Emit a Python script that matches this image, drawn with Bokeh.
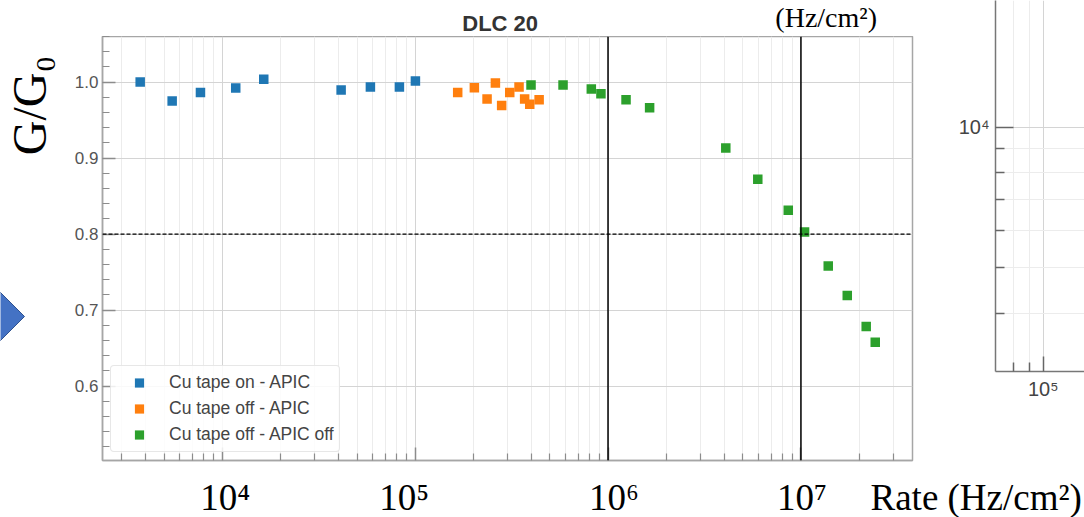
from math import pi, log10
from bokeh.plotting import figure
from bokeh.layouts import row, column
from bokeh.models import (Range1d, Span, FixedTicker, SingleIntervalTicker,
                          NumeralTickFormatter, CustomJSTickFormatter, LogScale)
from bokeh.core.properties import value
from bokeh.embed import file_html
from bokeh.resources import INLINE

# ---------------- data ----------------
blue_rate = [3760, 5507, 7720, 11760, 16430, 41370, 58670, 82930, 100400]
blue_gain = [1.000, 0.975, 0.9864, 0.9921, 1.0039, 0.9895, 0.9934, 0.9934, 1.0013]

orange_rate = [166300, 202900, 236100, 260800, 281000, 309500, 345800, 369700, 392900, 439500]
orange_gain = [0.9864, 0.9926, 0.9776, 0.9987, 0.9691, 0.9864, 0.9934, 0.9776, 0.9707, 0.9767]

green_rate = [399000, 584700, 819300, 919000, 1.240e6, 1.643e6, 4.078e6, 5.974e6,
              8.596e6, 1.044e7, 1.385e7, 1.738e7, 2.179e7, 2.427e7]
green_gain = [0.9961, 0.9961, 0.9908, 0.9847, 0.9768, 0.9663, 0.9134, 0.8720,
              0.8312, 0.8026, 0.7579, 0.7193, 0.6782, 0.6575]

series_names = ["Cu tape on - APIC", "Cu tape off - APIC", "Cu tape off - APIC off"]
series_colors = ["#1f77b4", "#ff7f0e", "#2ca02c"]

x_tick_values = [1e4, 1e5, 1e6, 1e7]
x_tick_labels = ["10\u2074", "10\u2075", "10\u2076", "10\u2077"]
threshold_gain = 0.8
marker_rates = [1e6, 1e7]

title_text = "DLC 20"
y_label_text = "G/G\u2080"
x_label_text = "Rate (Hz/cm\u00b2)"
top_unit_text = "(Hz/cm\u00b2)"

# neighbouring (cropped) chart on the right of the slide
side_x_major = [1e5]
side_x_minor = [7e4, 8e4, 9e4]
side_y_major = [1e4]
side_y_minor = [4000, 5000, 6000, 7000, 8000, 9000]

# ---------------- style / layout ----------------
SANS = "Liberation Sans"
SERIF = "Liberation Serif"
FRAME = "#a6a6a6"
TICK = "#8c8c8c"
x_label_nudge_px = [3, -11, 6, 1]      # the slide's hand-placed tick texts
MID = 0.3375                           # baseline -> middle of the text box, in em

X_MIN, X_MAX = 2398, 3.786e7
Y_MIN, Y_MAX = 0.502, 1.060
LEFT_W = 70            # slide strip left of the chart
MAIN_W = 882           # main chart canvas width
SIDE_W = 1084 - LEFT_W - MAIN_W
TOP_H = 36
MAIN_H = 434
BOT_H = 517 - TOP_H - MAIN_H
FRAME_L, FRAME_R = 32, 40   # main chart borders


def blank(width, height, xr, yr):
    f = figure(width=width, height=height, x_range=xr, y_range=yr,
               output_backend="svg", toolbar_location=None,
               x_axis_location=None, y_axis_location=None, min_border=0,
               background_fill_color="white", border_fill_color="white")
    f.outline_line_color = None
    f.grid.visible = False
    return f


# ---------------- main chart ----------------
p = figure(width=MAIN_W, height=MAIN_H, x_axis_type="log",
           x_range=Range1d(X_MIN, X_MAX), y_range=Range1d(Y_MIN, Y_MAX),
           output_backend="svg", toolbar_location=None,
           min_border_left=FRAME_L, min_border_right=FRAME_R,
           min_border_top=0, min_border_bottom=10,
           background_fill_color="white", border_fill_color="white")
p.outline_line_color = FRAME
p.outline_line_width = 1.5

minor_x = [m * 10 ** e for e in range(3, 8) for m in range(2, 10)]
p.xaxis.ticker = FixedTicker(ticks=x_tick_values, minor_ticks=minor_x)
p.xaxis.formatter = CustomJSTickFormatter(code="return ''")
p.xaxis.major_label_standoff = 0
p.xaxis.major_label_text_font_size = "1px"
p.yaxis.ticker = SingleIntervalTicker(interval=0.1, num_minor_ticks=5)
p.yaxis.formatter = NumeralTickFormatter(format="0.0")

for ax in (p.xaxis[0], p.yaxis[0]):
    ax.axis_line_color = FRAME
    ax.axis_line_width = 1.5
    ax.major_tick_in = 13
    ax.major_tick_out = 0
    ax.minor_tick_in = 7
    ax.minor_tick_out = 0
    ax.major_tick_line_color = TICK
    ax.minor_tick_line_color = TICK
    ax.major_tick_line_width = 1.5
    ax.minor_tick_line_width = 1.2

p.yaxis.major_label_text_font = SANS
p.yaxis.major_label_text_font_size = "17px"
p.yaxis.major_label_text_color = "#555555"
p.yaxis.major_label_standoff = 4

p.xgrid.grid_line_color = "#d4d4d4"
p.xgrid.minor_grid_line_color = "#ececec"
p.ygrid.grid_line_color = "#d4d4d4"
p.ygrid.minor_grid_line_color = None

p.add_layout(Span(location=threshold_gain, dimension="width", line_color="black",
                  line_width=1.2, line_dash="4 2"))
for r in marker_rates:
    p.add_layout(Span(location=r, dimension="height", line_color="black", line_width=1.5))

for rates, gains, name, col in zip((blue_rate, orange_rate, green_rate),
                                   (blue_gain, orange_gain, green_gain),
                                   series_names, series_colors):
    p.scatter(rates, gains, marker="square", size=9.5, fill_color=col,
              line_color=None, legend_label=name)

leg = p.legend[0]
leg.location = (8, 8)
leg.margin = 0
leg.padding = 5
leg.spacing = 3
leg.glyph_width = 46
leg.glyph_height = 23
leg.label_height = 23
leg.label_standoff = 7
leg.label_text_font = SANS
leg.label_text_font_size = "17.5px"
leg.label_text_color = "#444444"
leg.border_line_color = "#d0d0d0"
leg.border_line_width = 1
leg.border_radius = 4
leg.background_fill_alpha = 0.85

# ---------------- slide strips ----------------
# left strip: arrow tip and the y title
left = blank(LEFT_W, 517, Range1d(0, LEFT_W), Range1d(517, 0))
left.patch([-12, 24, -12], [280, 316, 352], fill_color="#4472C4",
           line_color="#2F528F", line_width=1)
left.text(x=[45 - MID * 48], y=[105], text=[y_label_text], angle=pi / 2,
          text_align="center", text_baseline="middle",
          text_font=value(SERIF), text_font_size=value("48px"), text_color="black")

# top strip: chart title and the unit text of the slide
top = blank(MAIN_W, TOP_H, Range1d(LEFT_W, LEFT_W + MAIN_W), Range1d(TOP_H, 0))
top.text(x=[503], y=[30 - MID * 22], text=[title_text], text_align="center",
         text_baseline="middle", text_font=value(SANS), text_font_style="bold",
         text_font_size=value("22px"), text_color="#333333")
top.text(x=[858], y=[26 - MID * 28], text=[top_unit_text], text_align="center",
         text_baseline="middle", text_font=value(SERIF),
         text_font_size=value("28px"), text_color="black")

# bottom strip: decade labels (through the chart's log scale) and the x title
bot = blank(1084 - LEFT_W, BOT_H, Range1d(LEFT_W, 1084), Range1d(517, 517 - BOT_H))
k = (log10(X_MAX) - log10(X_MIN)) / (MAIN_W - FRAME_L - FRAME_R)
rate_lo = 10 ** (log10(X_MIN) - FRAME_L * k)
rate_hi = 10 ** (log10(X_MAX) + (1084 - (LEFT_W + MAIN_W - FRAME_R)) * k)
bot.extra_x_ranges = {"rate": Range1d(rate_lo, rate_hi)}
bot.extra_x_scales = {"rate": LogScale()}
base_y = 509 - MID * 37
bot.text(x=x_tick_values, y=[base_y] * len(x_tick_values), text=x_tick_labels,
         x_offset=x_label_nudge_px, x_range_name="rate",
         text_align="center", text_baseline="middle",
         text_font=value(SERIF), text_font_size=value("37px"), text_color="black")
bot.text(x=[870], y=[base_y], text=[x_label_text], text_align="left",
         text_baseline="middle", text_font=value(SERIF),
         text_font_size=value("37px"), text_color="black")

# right: the cropped neighbouring chart
side = figure(width=SIDE_W, height=TOP_H + MAIN_H, x_axis_type="log", y_axis_type="log",
              x_range=Range1d(10 ** (5 - 47.7 / 310), 10 ** (5 + 41.3 / 310)),
              y_range=Range1d(3000, 10 ** (4 + 127 / 467)),
              output_backend="svg", toolbar_location=None,
              min_border_left=43, min_border_right=0, min_border_top=0,
              min_border_bottom=99,
              background_fill_color="white", border_fill_color="white")
side.outline_line_color = None
sup = ("const s={'0':'\u2070','1':'\u00b9','2':'\u00b2','3':'\u00b3','4':'\u2074',"
       "'5':'\u2075','6':'\u2076','7':'\u2077','8':'\u2078','9':'\u2079'};"
       "const e=Math.round(Math.log10(tick));"
       "return '10'+String(e).split('').map(c=>s[c]).join('');")
side.xaxis.ticker = FixedTicker(ticks=side_x_major, minor_ticks=side_x_minor)
side.yaxis.ticker = FixedTicker(ticks=side_y_major, minor_ticks=side_y_minor)
for ax in (side.xaxis[0], side.yaxis[0]):
    ax.formatter = CustomJSTickFormatter(code=sup)
    ax.axis_line_color = "#777777"
    ax.axis_line_width = 1.5
    ax.major_tick_out = 0
    ax.minor_tick_out = 0
    ax.minor_tick_in = 9
    ax.major_tick_line_color = "#666666"
    ax.minor_tick_line_color = "#666666"
    ax.major_tick_line_width = 1.5
    ax.minor_tick_line_width = 1.5
    ax.major_label_text_font = SANS
    ax.major_label_text_font_size = "20px"
    ax.major_label_text_color = "#444444"
side.yaxis.major_tick_in = 18
side.xaxis.major_tick_in = 15
side.yaxis.major_label_standoff = 6
side.xaxis.major_label_standoff = 6
side.grid.grid_line_color = "#d4d4d4"
side.grid.minor_grid_line_color = "#ececec"

layout = row(left, column(row(column(top, p), side), bot))
open("out.html", "w").write(file_html(layout, INLINE))
